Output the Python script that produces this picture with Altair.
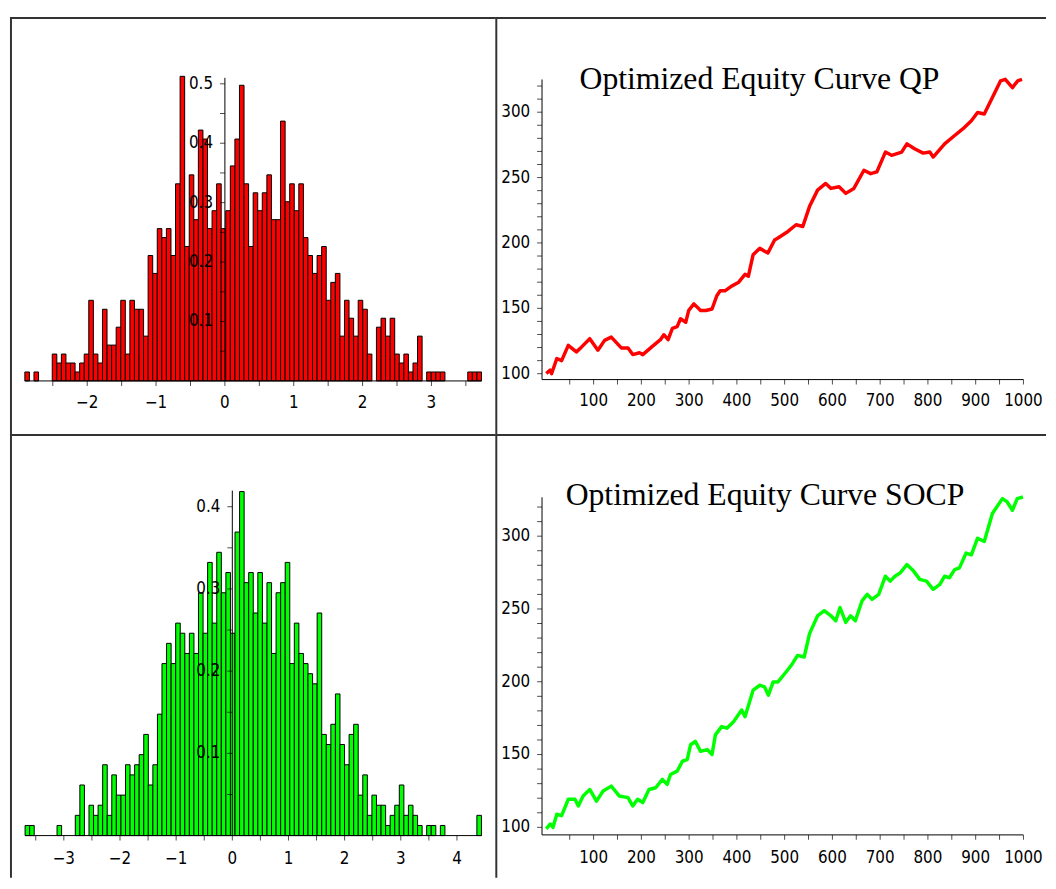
import altair as alt
import pandas as pd

# ---------------- data ----------------
N_SAMPLES = 1000

# QP residual histogram (100 bins between min and max), bar counts
qp_hist_range = [-2.906, 3.727]
qp_hist_counts = [1, 0, 1, 0, 0, 0,
                  3, 2, 3, 2, 2, 1, 2, 3, 9, 3,
                  2, 8, 4, 4, 6, 9, 3, 9, 8, 8,
                  5, 14, 12, 17, 16, 17, 14, 22, 34, 15,
                  23, 18, 28, 27, 17, 19, 22, 17, 19, 24,
                  27, 33, 22, 15, 21, 19,
                  21, 23, 18, 18, 29, 20, 22, 19, 22, 16,
                  14, 12, 14, 15, 9, 11, 12, 5, 9, 7,
                  5, 9, 8, 3, 0, 6, 7, 5, 7, 3,
                  2, 3, 1, 2, 5, 0, 1, 1, 1, 1,
                  0, 0, 0, 0, 0, 1, 1, 1]
qp_hist_xticks = [-2.5, -2, -1.5, -1, -0.5, 0, 0.5, 1, 1.5, 2, 2.5, 3, 3.5]
qp_hist_yticks = [0.05, 0.1, 0.15, 0.2, 0.25, 0.3, 0.35, 0.4, 0.45, 0.5]
qp_hist_ytop = 0.51

# SOCP residual histogram
socp_hist_range = [-3.69, 4.436]
socp_hist_counts = [1, 1, 0, 0, 0, 0, 0, 1, 0, 0, 0, 2, 5, 0,
                    3, 2, 3, 7, 2, 6, 4, 4, 7, 6, 7, 8, 10, 5, 7, 12,
                    17, 19, 17, 21, 20, 18, 20, 18, 24, 20, 27, 21, 28, 24, 26, 20, 30, 34,
                    25, 26, 22, 26, 21, 25, 18, 24, 25, 27, 17, 21, 18, 17, 16, 15, 22,
                    10, 9, 11, 14, 9, 7, 10, 11, 4, 6, 2, 4, 3, 3, 1, 2, 3, 5, 2, 3,
                    2, 1, 0, 1, 1, 0, 1, 0, 0, 0, 0, 0, 0, 0, 2]
socp_hist_xticks = [-3.5, -3, -2.5, -2, -1.5, -1, -0.5, 0, 0.5, 1, 1.5, 2, 2.5, 3, 3.5, 4]
socp_hist_yticks = [0.05, 0.1, 0.15, 0.2, 0.25, 0.3, 0.35, 0.4]
socp_hist_ytop = 0.4196

# Equity curves
qp_t = [1, 9, 12, 23, 33, 47, 64, 75, 92, 109, 123, 137, 158, 172, 182, 196, 203,
        223, 240, 247, 256, 265, 275, 282, 293, 299, 310, 324, 335, 348, 358, 365,
        375, 389, 403, 417, 424, 434, 448, 458, 465, 479, 486, 507, 524, 538, 552,
        569, 586, 597, 614, 628, 645, 666, 680, 693, 711, 724, 745, 756, 772, 790,
        804, 811, 835, 856, 873, 891, 904, 918, 935, 952, 962, 977, 988, 997]
qp_v = [100.2, 102.8, 100, 111.6, 110, 121.7, 116.7, 120.5, 126.8, 118, 125.5, 128,
        119.7, 119.7, 114.6, 116, 114.6, 120.9, 126, 129.8, 126, 134.7, 136, 142,
        139.4, 148.3, 153.4, 148.3, 148.3, 149.5, 159.6, 163.4, 163.4, 167, 169.7,
        176, 174.5, 191, 196, 193.7, 192.4, 202.3, 203.8, 208.8, 213.9, 212.6, 227.8,
        240.4, 245.5, 241.7, 243, 237.9, 241.7, 255.6, 253, 254.3, 269.5, 267, 269.5,
        275.8, 272, 268.7, 269.5, 265.7, 275.8, 282.2, 287.2, 293.5, 299.8, 298.6,
        311.2, 323.9, 325.1, 318.8, 323.9, 325.1]

socp_t = [1, 9, 15, 23, 33, 47, 61, 68, 78, 92, 106, 120, 137, 154, 172, 182, 192,
          203, 216, 230, 244, 254, 261, 275, 286, 296, 303, 313, 324, 338, 348, 355,
          368, 379, 393, 410, 417, 434, 448, 458, 466, 476, 486, 503, 514, 527, 541,
          552, 569, 583, 597, 607, 616, 628, 638, 648, 662, 673, 683, 697, 711, 721,
          731, 742, 756, 770, 783, 797, 811, 825, 835, 845, 856, 866, 880, 891, 904,
          918, 935, 956, 966, 977, 987, 999]
socp_v = [98.9, 102.3, 100, 109, 108, 119.3, 119.3, 114.7, 121.5, 126, 118, 124.9,
          128.3, 121.5, 120.4, 114.7, 119.3, 117, 126, 127.2, 132.9, 129.5, 136.3,
          138.6, 145.4, 146.5, 156.7, 159, 152.2, 153.4, 150, 163.5, 169.2, 168.1,
          172.6, 180.6, 176, 194.2, 197.6, 196.4, 190.8, 199.9, 199.9, 206.7, 211.3,
          218.1, 217, 232.9, 245.3, 248.8, 245.3, 241.9, 251, 240.8, 245.3, 241.9,
          255.5, 260, 256.6, 260, 272.5, 269.1, 272.5, 274.8, 280.5, 276, 270.3,
          269.1, 263.5, 266.9, 272.5, 271.4, 277, 278.2, 288.4, 287.2, 298.6, 296.3,
          315.6, 325.8, 323.5, 317.8, 325.8, 326.9]

equity_xticks = list(range(50, 1001, 50))
equity_yticks = list(range(100, 321, 10))

qp_title = "Optimized Equity Curve QP"
socp_title = "Optimized Equity Curve SOCP"

# ---------------- styling ----------------
TICK_FONT = "Liberation Sans Narrow, Arial Narrow, DejaVu Sans Condensed, sans-serif"
TICK_FS = 17
BORDER = "#333333"
one_row = pd.DataFrame({"k": [0]})


def fmt_num(v, dec):
    s = f"{abs(v):.{dec}f}"
    return ("\u2212" + s) if v < 0 else s


def borders(W, H):
    top = alt.Chart(one_row).mark_rule(color=BORDER, strokeWidth=2).encode(
        x=alt.value(0), x2=alt.value(W), y=alt.value(1))
    left = alt.Chart(one_row).mark_rule(color=BORDER, strokeWidth=2).encode(
        x=alt.value(1), y=alt.value(0), y2=alt.value(H))
    return [top, left]


def axis_layers(xs, ys, xticks, xlabel_of, x_at, x_span, yticks, ylabel_of, y_at, y_span,
                xlab_dy, ylab_dx):
    # axis lines
    xline = alt.Chart(pd.DataFrame({"a": [x_span[0]], "b": [x_span[1]], "y": [x_at]})).mark_rule(
        color="black", strokeWidth=1).encode(
        x=alt.X("a:Q", scale=xs, axis=None), x2="b:Q",
        y=alt.Y("y:Q", scale=ys, axis=None))
    yline = alt.Chart(pd.DataFrame({"x": [y_at], "a": [y_span[0]], "b": [y_span[1]]})).mark_rule(
        color="black", strokeWidth=1).encode(
        x=alt.X("x:Q", scale=xs, axis=None),
        y=alt.Y("a:Q", scale=ys, axis=None), y2="b:Q")
    # x ticks + labels
    xdf = pd.DataFrame({"v": xticks, "a": [x_at] * len(xticks),
                        "lab": [xlabel_of(v) for v in xticks]})
    xt = alt.Chart(xdf).mark_tick(orient="vertical", size=5, thickness=1, color="black",
                                  yOffset=2.5).encode(
        x=alt.X("v:Q", scale=xs, axis=None), y=alt.Y("a:Q", scale=ys, axis=None))
    xl = alt.Chart(xdf).mark_text(font=TICK_FONT, fontSize=TICK_FS, color="black",
                                  align="center", baseline="top", dy=xlab_dy).encode(
        x=alt.X("v:Q", scale=xs, axis=None), y=alt.Y("a:Q", scale=ys, axis=None),
        text="lab:N")
    # y ticks + labels
    ydf = pd.DataFrame({"v": yticks, "a": [y_at] * len(yticks),
                        "lab": [ylabel_of(v) for v in yticks]})
    yt = alt.Chart(ydf).mark_tick(orient="horizontal", size=5, thickness=1, color="black",
                                  xOffset=-2.5).encode(
        y=alt.Y("v:Q", scale=ys, axis=None), x=alt.X("a:Q", scale=xs, axis=None))
    yl = alt.Chart(ydf).mark_text(font=TICK_FONT, fontSize=TICK_FS, color="black",
                                  align="right", baseline="middle", dx=ylab_dx).encode(
        y=alt.Y("v:Q", scale=ys, axis=None), x=alt.X("a:Q", scale=xs, axis=None),
        text="lab:N")
    return [xline, yline, xt, yt, xl, yl]


def hist_panel(counts, rng, color, W, H, xdom, ydom, xticks, yticks, ytop, xlab_dy):
    nb = len(counts)
    w = (rng[1] - rng[0]) / nb
    df = pd.DataFrame({
        "x0": [rng[0] + i * w for i in range(nb)],
        "x1": [rng[0] + (i + 1) * w for i in range(nb)],
        "d": [c / (N_SAMPLES * w) for c in counts],
        "zero": [0.0] * nb,
        "c": counts,
    })
    df = df[df["c"] > 0]
    xs = alt.Scale(domain=xdom, nice=False, zero=False)
    ys = alt.Scale(domain=ydom, nice=False, zero=False)
    bars = alt.Chart(df).mark_rect(fill=color, stroke="black", strokeWidth=1).encode(
        x=alt.X("x0:Q", scale=xs, axis=None), x2="x1:Q",
        y=alt.Y("d:Q", scale=ys, axis=None), y2="zero:Q")
    axes = axis_layers(
        xs, ys,
        xticks, lambda v: fmt_num(v, 0) if abs(v - round(v)) < 1e-9 else "", 0, rng,
        yticks, lambda v: fmt_num(v, 1) if abs(v * 10 - round(v * 10)) < 1e-6 else "", 0, [0, ytop],
        xlab_dy, -12)
    return alt.layer(bars, *axes, *borders(W, H)).properties(width=W, height=H)


def equity_panel(ts, vs, color, title, W, H, xdom, ydom, axis_t, axis_v, ytop,
                 title_x, title_y, xlab_dy):
    df = pd.DataFrame({"t": ts, "v": vs})
    xs = alt.Scale(domain=xdom, nice=False, zero=False)
    ys = alt.Scale(domain=ydom, nice=False, zero=False)
    line = alt.Chart(df).mark_line(color=color, strokeWidth=3.5, strokeJoin="round").encode(
        x=alt.X("t:Q", scale=xs, axis=None), y=alt.Y("v:Q", scale=ys, axis=None))
    axes = axis_layers(
        xs, ys,
        equity_xticks, lambda v: str(v) if v % 100 == 0 else "", axis_v, [axis_t, 1000],
        equity_yticks, lambda v: str(v) if v % 50 == 0 else "", axis_t, [axis_v, ytop],
        xlab_dy, -12)
    ttl = alt.Chart(one_row).mark_text(
        text=title, font="Liberation Serif, Times New Roman, serif", fontSize=32,
        align="left", baseline="alphabetic", color="black").encode(
        x=alt.value(title_x), y=alt.value(title_y))
    return alt.layer(line, *axes, ttl, *borders(W, H)).properties(width=W, height=H)


LW, RW = 490, 556
TH, BH = 421, 448

tl = hist_panel(qp_hist_counts, qp_hist_range, "#ff0000", LW, TH,
                [-3.122, 3.928], [-0.0895, 0.6122],
                qp_hist_xticks, qp_hist_yticks, qp_hist_ytop, 14)
bl = hist_panel(socp_hist_counts, socp_hist_range, "#00ff00", LW, BH,
                [-3.959, 4.683], [-0.0514, 0.4883],
                socp_hist_xticks, socp_hist_yticks, socp_hist_ytop, 16)
tr = equity_panel(qp_t, qp_v, "#ff0000", qp_title, RW, TH,
                  [-105.8, 1047.3], [53.8, 372.7], -8, 95.5, 325, 85, 73, 14)
br = equity_panel(socp_t, socp_v, "#00ff00", socp_title, RW, BH,
                  [-105.8, 1047.3], [65.3, 370.1], -8, 94.8, 326.7, 71, 72, 15)

chart = alt.concat(tl, tr, bl, br, columns=2, spacing=0, bounds="flush").properties(
    padding={"left": 0, "top": 3, "right": 0, "bottom": 0},
    background="white",
).configure_view(stroke="transparent")

chart.save("out.html", embed_options={"renderer": "svg", "actions": False})
